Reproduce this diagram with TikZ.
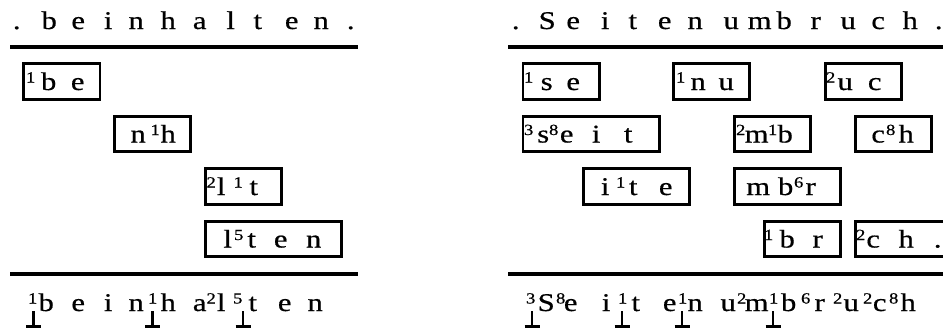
\documentclass[tikz,border=0pt]{standalone}
\usepackage{fontspec}
\setmainfont[FakeBold=0.5]{Liberation Serif}
% one glyph, widened, centred at #1 pt from the start of its row
\newcommand\gl[2]{\makebox[0pt][l]{\hspace*{#1pt}\makebox[0pt]{\scalebox{1.2}[1]{#2}}}}
% hyphenation value written above the gap between letters
\newcommand\hdig[1]{\raisebox{7.5pt}{\fontsize{15.5}{15.5}\selectfont #1}}
\tikzset{
  glyphrow/.style={anchor=base west, inner sep=0pt, font=\fontsize{25.5}{29}\selectfont},
  wbox/.style={draw, line width=2.6pt, inner sep=0pt, minimum height=35.5pt},
  w2/.style={wbox, minimum width=76.4pt},
  w3/.style={wbox, minimum width=106.4pt},
  w4/.style={wbox, minimum width=136.4pt},
  rule/.style={line width=3.5pt},
  hmark/.style={line width=2.6pt},
}
\newcommand\hyph[1]{%
  \draw[hmark] (#1,311) -- (#1,326.5);
  \draw[line width=3pt] ([xshift=-7.5pt]#1,326.5) -- ([xshift=7.5pt]#1,326.5);}
\begin{document}
\begin{tikzpicture}[x=1pt,y=-1pt]
\clip (0,0) rectangle (943,333);
\fill[white] (0,0) rectangle (943,333);

% ---------------- beinhalten ----------------
\node[glyphrow] (w1) at (0,29) {\gl{16}{.}\gl{48.5}{b}\gl{77.5}{e}\gl{107.5}{i}\gl{135.5}{n}\gl{167.5}{h}\gl{199}{a}\gl{230}{l}\gl{257}{t}\gl{291}{e}\gl{320.5}{n}\gl{350}{.}};
\draw[rule] (10,47) -- (358,47);

\node[w2] (p1) at (61.85,81.5) {};
\node[glyphrow] (p1t) at (0,90) {\gl{30}{\hdig1}\gl{48}{b}\gl{77}{e}};
\node[w2] (p2) at (152.5,134) {};
\node[glyphrow] (p2t) at (0,142.5) {\gl{137.5}{n}\gl{154.5}{\hdig1}\gl{167.5}{h}};
\node[w2] (p3) at (243.5,186.5) {};
\node[glyphrow] (p3t) at (0,195) {\gl{210.5}{\hdig2}\gl{220.5}{l}\gl{237.5}{\hdig1}\gl{253}{t}};
\node[w4] (p4) at (273.5,239) {};
\node[glyphrow] (p4t) at (0,247.5) {\gl{227}{l}\gl{238}{\hdig5}\gl{251}{t}\gl{280}{e}\gl{313}{n}};

\draw[rule] (10,274) -- (358,274);
\node[glyphrow] (r1) at (0,311) {\gl{32}{\hdig1}\gl{45.5}{b}\gl{77.5}{e}\gl{107.5}{i}\gl{135.5}{n}\gl{152}{\hdig1}\gl{167.5}{h}\gl{199}{a}\gl{210.5}{\hdig2}\gl{220.5}{l}\gl{237}{\hdig5}\gl{252}{t}\gl{284}{e}\gl{314.5}{n}};
\hyph{33.5}\hyph{152.5}\hyph{243}

% ---------------- Seitenumbruch ----------------
\node[glyphrow] (w2) at (0,29) {\gl{515}{.}\gl{546.5}{S}\gl{572.5}{e}\gl{604.5}{i}\gl{632}{t}\gl{664}{e}\gl{694.5}{n}\gl{730.5}{u}\gl{759}{m}\gl{783.5}{b}\gl{815}{r}\gl{847.5}{u}\gl{877.5}{c}\gl{909.5}{h}\gl{938}{.}};
\draw[rule] (508,47) -- (943,47);

\node[w2] (q1) at (561,81.5) {};
\node[glyphrow] (q1t) at (0,90) {\gl{528}{\hdig1}\gl{546}{s}\gl{572.5}{e}};
\node[w2] (q2) at (711.5,81.5) {};
\node[glyphrow] (q2t) at (0,90) {\gl{680}{\hdig1}\gl{697.5}{n}\gl{725.5}{u}};
\node[w2] (q3) at (863.5,81.5) {};
\node[glyphrow] (q3t) at (0,90) {\gl{830}{\hdig2}\gl{844.5}{u}\gl{874}{c}};

\node[w4] (q4) at (591,134) {};
\node[glyphrow] (q4t) at (0,142.5) {\gl{528}{\hdig3}\gl{542.5}{s}\gl{553}{\hdig8}\gl{566}{e}\gl{595.5}{i}\gl{627.5}{t}};
\node[w2] (q5) at (772.5,134) {};
\node[glyphrow] (q5t) at (0,142.5) {\gl{740}{\hdig2}\gl{756}{m}\gl{772}{\hdig1}\gl{784.5}{b}};
\node[w2] (q6) at (893.5,134) {};
\node[glyphrow] (q6t) at (0,142.5) {\gl{877.5}{c}\gl{890}{\hdig8}\gl{905.5}{h}};

\node[w3] (q7) at (636.5,186.5) {};
\node[glyphrow] (q7t) at (0,195) {\gl{604.5}{i}\gl{620}{\hdig1}\gl{632.5}{t}\gl{665}{e}};
\node[w3] (q8) at (787.5,186.5) {};
\node[glyphrow] (q8t) at (0,195) {\gl{757.5}{m}\gl{785}{b}\gl{798}{\hdig6}\gl{810}{r}};

\node[w2] (q9) at (802.5,239) {};
\node[glyphrow] (q9t) at (0,247.5) {\gl{768}{\hdig1}\gl{786.5}{b}\gl{817}{r}};
\node[w3] (q10) at (908.5,239) {};
\node[glyphrow] (q10t) at (0,247.5) {\gl{860}{\hdig2}\gl{872.5}{c}\gl{905.5}{h}\gl{937}{.}};

\draw[rule] (508,274) -- (943,274);
\node[glyphrow] (r2) at (0,311) {\gl{530}{\hdig3}\gl{545.5}{S}\gl{560}{\hdig8}\gl{570}{e}\gl{605.5}{i}\gl{622}{\hdig1}\gl{635}{t}\gl{669}{e}\gl{682}{\hdig1}\gl{694.5}{n}\gl{727.5}{u}\gl{741}{\hdig2}\gl{756}{m}\gl{773}{\hdig1}\gl{788}{b}\gl{805}{\hdig6}\gl{819}{r}\gl{837}{\hdig2}\gl{850.5}{u}\gl{867}{\hdig2}\gl{879}{c}\gl{893}{\hdig8}\gl{907.5}{h}};
\hyph{532}\hyph{622}\hyph{682}\hyph{773}
\end{tikzpicture}
\end{document}
